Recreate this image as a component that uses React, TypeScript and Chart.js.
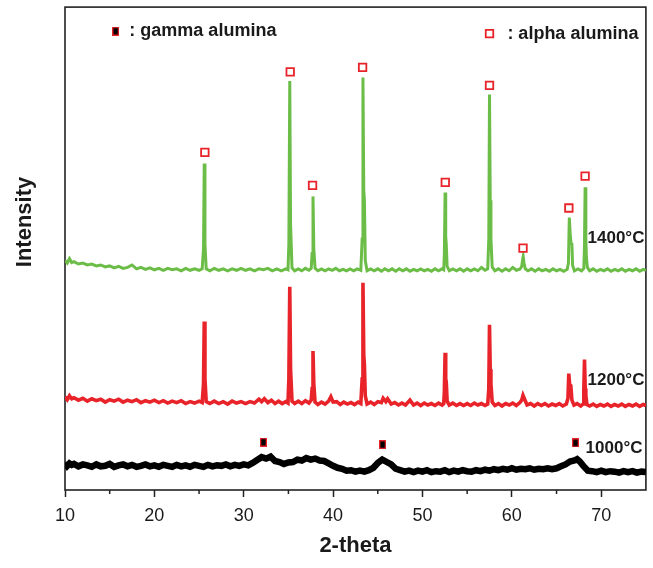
import React, { useEffect, useRef } from 'react';
import { Chart, registerables } from 'chart.js';

Chart.register(...registerables);

// ---- axis ticks ----
const xTickValues = [10, 20, 30, 40, 50, 60, 70];
const xMinorTickValues = [15, 25, 35, 45, 55, 65];

// ---- XRD traces (2-theta, intensity in arbitrary offset units) ----
const green1400: [number, number][] = [
  [10.0, 47.5], [10.25, 47.0], [10.5, 47.9], [10.75, 47.1], [11.0, 47.3], [11.5, 46.8], [12.0, 47.0], [12.5, 46.6],
  [13.0, 46.8], [13.5, 46.4], [14.0, 46.6], [14.5, 46.2], [15.0, 46.4], [15.5, 46.0], [16.0, 46.3], [16.5, 45.9],
  [17.0, 46.1], [17.5, 46.6], [18.0, 45.8], [18.5, 46.1], [19.0, 45.7], [19.5, 46.0], [20.0, 45.6], [20.5, 45.9],
  [21.0, 45.5], [21.5, 45.9], [22.0, 45.6], [22.5, 45.8], [23.0, 45.4], [23.5, 45.9], [24.0, 45.5], [24.5, 45.8],
  [25.0, 45.5], [25.35, 45.8], [25.5, 50.0], [25.58, 67.6], [25.66, 51.0], [25.8, 45.8], [26.2, 45.4], [26.7, 45.9],
  [27.2, 45.5], [27.7, 45.8], [28.2, 45.4], [28.7, 45.8], [29.2, 45.5], [29.7, 45.9], [30.2, 45.5], [30.7, 45.8],
  [31.2, 45.4], [31.7, 45.8], [32.2, 45.6], [32.7, 45.9], [33.2, 45.4], [33.7, 45.8], [34.2, 45.4], [34.7, 45.8],
  [34.95, 45.6], [35.05, 51.0], [35.15, 84.7], [35.24, 55.0], [35.4, 46.0], [35.7, 45.4], [36.1, 45.8], [36.5, 45.4],
  [36.9, 45.9], [37.3, 45.5], [37.55, 45.9], [37.65, 49.0], [37.75, 60.8], [37.84, 50.0], [37.98, 45.9], [38.3, 45.4],
  [38.7, 45.8], [39.1, 45.4], [39.5, 45.8], [39.9, 45.5], [40.3, 45.9], [40.7, 45.4], [41.1, 45.7], [41.5, 45.4],
  [41.9, 45.8], [42.3, 45.4], [42.7, 45.8], [43.1, 45.5], [43.25, 52.0], [43.34, 85.4], [43.43, 62.0], [43.5, 60.2],
  [43.6, 47.5], [43.8, 45.4], [44.2, 45.8], [44.6, 45.4], [45.0, 45.8], [45.4, 45.3], [45.8, 45.8], [46.2, 45.4],
  [46.6, 45.8], [47.0, 45.3], [47.4, 45.8], [47.8, 45.4], [48.2, 45.8], [48.6, 45.3], [49.0, 45.7], [49.4, 45.4],
  [49.8, 45.8], [50.2, 45.4], [50.6, 45.7], [51.0, 45.3], [51.4, 45.8], [51.8, 45.4], [52.2, 45.8], [52.38, 45.6],
  [52.45, 49.0], [52.53, 61.6], [52.6, 52.5], [52.66, 51.0], [52.76, 46.3], [53.0, 45.4], [53.4, 45.8], [53.8, 45.4],
  [54.2, 45.8], [54.6, 45.3], [55.0, 45.8], [55.4, 45.4], [55.8, 45.8], [56.2, 45.4], [56.6, 46.1], [57.0, 45.5],
  [57.3, 45.8], [57.42, 52.0], [57.5, 81.9], [57.58, 60.0], [57.66, 52.0], [57.8, 46.2], [58.1, 45.4], [58.5, 45.8],
  [58.9, 45.3], [59.3, 45.8], [59.7, 45.4], [60.1, 46.1], [60.5, 45.5], [60.9, 45.7], [61.1, 46.3], [61.2, 47.6],
  [61.27, 48.3], [61.36, 47.0], [61.5, 45.8], [61.8, 45.4], [62.2, 45.8], [62.6, 45.3], [63.0, 45.8], [63.4, 45.4],
  [63.8, 45.7], [64.2, 45.3], [64.6, 45.8], [65.0, 45.4], [65.4, 45.7], [65.8, 45.3], [66.2, 45.7], [66.33, 47.0],
  [66.43, 56.4], [66.53, 53.0], [66.62, 51.2], [66.72, 50.8], [66.8, 46.5], [67.0, 45.4], [67.4, 45.8], [67.8, 45.4],
  [68.05, 45.9], [68.12, 50.0], [68.2, 62.7], [68.28, 52.0], [68.34, 48.3], [68.45, 46.1], [68.7, 45.4], [69.1, 45.8],
  [69.5, 45.3], [69.9, 45.7], [70.3, 45.4], [70.7, 45.8], [71.1, 45.3], [71.5, 45.7], [71.9, 45.4], [72.3, 45.8],
  [72.7, 45.3], [73.1, 45.7], [73.5, 45.4], [73.9, 45.8], [74.3, 45.3], [74.7, 45.7], [75.0, 45.5],
];

const red1200: [number, number][] = [
  [10.0, 19.3], [10.25, 18.7], [10.5, 19.5], [10.75, 18.9], [11.0, 19.1], [11.5, 18.6], [12.0, 19.0], [12.5, 18.4],
  [13.0, 18.9], [13.5, 18.5], [14.0, 18.8], [14.5, 18.2], [15.0, 18.7], [15.5, 18.4], [16.0, 18.8], [16.5, 18.2],
  [17.0, 18.6], [17.5, 18.3], [18.0, 18.7], [18.5, 18.1], [19.0, 18.5], [19.5, 18.2], [20.0, 18.6], [20.5, 18.1],
  [21.0, 18.5], [21.5, 18.0], [22.0, 18.4], [22.5, 18.1], [23.0, 18.5], [23.5, 17.9], [24.0, 18.3], [24.5, 18.0],
  [25.0, 18.4], [25.35, 18.1], [25.5, 22.0], [25.58, 34.9], [25.66, 23.0], [25.8, 18.3], [26.2, 17.9], [26.7, 18.4],
  [27.2, 17.9], [27.7, 18.3], [28.2, 17.8], [28.7, 18.4], [29.2, 18.0], [29.7, 18.3], [30.2, 17.9], [30.7, 18.3],
  [31.2, 18.0], [31.7, 18.8], [32.0, 18.3], [32.3, 18.9], [32.7, 18.1], [33.1, 18.6], [33.5, 17.9], [33.9, 18.4],
  [34.3, 17.9], [34.7, 18.3], [34.95, 18.0], [35.05, 23.0], [35.15, 42.1], [35.24, 25.0], [35.4, 18.4], [35.7, 17.9],
  [36.1, 18.4], [36.5, 17.9], [36.9, 18.5], [37.3, 18.0], [37.55, 18.6], [37.65, 21.0], [37.75, 28.8], [37.84, 22.0],
  [37.98, 18.2], [38.3, 17.7], [38.7, 18.2], [39.1, 17.8], [39.5, 18.4], [39.75, 19.3], [40.0, 18.2], [40.4, 18.3],
  [40.8, 17.7], [41.2, 18.2], [41.6, 17.8], [42.0, 18.1], [42.4, 17.7], [42.8, 18.2], [43.1, 17.9], [43.25, 23.0],
  [43.34, 42.9], [43.43, 28.0], [43.5, 26.0], [43.6, 19.5], [43.8, 17.8], [44.2, 18.2], [44.6, 17.7], [45.0, 18.3],
  [45.4, 18.1], [45.6, 19.0], [45.9, 18.3], [46.1, 18.9], [46.5, 17.8], [46.9, 18.1], [47.3, 17.6], [47.7, 18.0],
  [48.1, 17.6], [48.6, 18.6], [49.0, 17.6], [49.4, 18.0], [49.8, 17.5], [50.2, 18.0], [50.6, 17.6], [51.0, 17.9],
  [51.4, 17.5], [51.8, 18.0], [52.2, 17.6], [52.38, 17.9], [52.45, 20.5], [52.53, 28.4], [52.6, 23.0], [52.66, 22.4],
  [52.76, 18.4], [53.0, 17.6], [53.4, 18.0], [53.8, 17.5], [54.2, 17.9], [54.6, 17.5], [55.0, 17.9], [55.4, 17.5],
  [55.8, 18.0], [56.2, 17.6], [56.6, 17.9], [57.0, 17.5], [57.3, 17.8], [57.42, 21.0], [57.5, 34.2], [57.58, 25.0],
  [57.66, 22.0], [57.8, 18.2], [58.1, 17.5], [58.5, 17.9], [58.9, 17.4], [59.3, 17.9], [59.7, 17.6], [60.1, 18.0],
  [60.5, 17.5], [60.9, 18.1], [61.1, 18.6], [61.25, 19.6], [61.45, 18.7], [61.7, 17.6], [62.1, 17.9], [62.5, 17.4],
  [62.9, 17.9], [63.3, 17.5], [63.7, 17.9], [64.1, 17.4], [64.5, 17.8], [64.9, 17.5], [65.3, 17.9], [65.7, 17.4],
  [66.1, 17.8], [66.28, 19.0], [66.37, 24.1], [66.47, 21.8], [66.6, 21.6], [66.72, 18.6], [66.95, 17.6], [67.3, 17.9],
  [67.7, 17.4], [67.98, 17.8], [68.05, 20.5], [68.13, 27.0], [68.21, 21.0], [68.28, 19.5], [68.4, 17.7], [68.7, 17.4],
  [69.1, 17.8], [69.5, 17.3], [69.9, 17.7], [70.3, 17.4], [70.7, 17.8], [71.1, 17.3], [71.5, 17.7], [71.9, 17.4],
  [72.3, 17.8], [72.7, 17.3], [73.1, 17.7], [73.5, 17.4], [73.9, 17.8], [74.3, 17.3], [74.7, 17.7], [75.0, 17.5],
];

const black1000: [number, number][] = [
  [10.0, 5.7], [10.25, 5.0], [10.5, 5.5], [10.75, 5.2], [11.0, 5.4], [11.5, 4.9], [12.0, 5.3], [12.5, 5.1],
  [13.0, 4.8], [13.5, 5.3], [14.0, 4.9], [14.5, 5.0], [15.0, 5.4], [15.5, 4.8], [16.0, 5.1], [16.5, 5.3],
  [17.0, 4.9], [17.5, 5.2], [18.0, 4.8], [18.5, 5.0], [19.0, 5.3], [19.5, 4.9], [20.0, 5.1], [20.5, 4.8],
  [21.0, 5.2], [21.5, 5.0], [22.0, 4.8], [22.5, 5.2], [23.0, 4.9], [23.5, 5.1], [24.0, 4.8], [24.5, 5.2],
  [25.0, 5.0], [25.5, 4.8], [26.0, 5.2], [26.5, 4.9], [27.0, 5.1], [27.5, 5.0], [28.0, 5.3], [28.5, 4.9],
  [29.0, 5.2], [29.5, 5.0], [30.0, 5.3], [30.5, 5.1], [31.0, 5.6], [31.5, 6.2], [32.0, 6.8], [32.5, 6.5],
  [33.0, 6.9], [33.5, 6.0], [34.0, 5.8], [34.5, 5.4], [35.0, 5.7], [35.5, 5.8], [36.0, 6.3], [36.5, 6.1],
  [37.0, 6.6], [37.5, 6.3], [38.0, 6.5], [38.5, 6.1], [39.0, 6.0], [39.5, 5.5], [40.0, 5.0], [40.5, 4.6],
  [41.0, 4.4], [41.5, 4.0], [42.0, 4.1], [42.5, 3.8], [43.0, 4.0], [43.5, 3.8], [44.0, 4.1], [44.5, 4.6],
  [45.0, 5.6], [45.5, 6.3], [46.0, 5.8], [46.5, 5.3], [47.0, 4.4], [47.5, 4.1], [48.0, 3.8], [48.5, 4.0],
  [49.0, 3.7], [49.5, 4.0], [50.0, 3.8], [50.5, 4.1], [51.0, 3.7], [51.5, 3.9], [52.0, 3.8], [52.5, 4.1],
  [53.0, 3.7], [53.5, 4.0], [54.0, 3.8], [54.5, 4.1], [55.0, 3.9], [55.5, 3.8], [56.0, 4.1], [56.5, 3.9],
  [57.0, 4.2], [57.5, 4.0], [58.0, 4.3], [58.5, 4.1], [59.0, 4.4], [59.5, 4.2], [60.0, 4.5], [60.5, 4.2],
  [61.0, 4.4], [61.5, 4.3], [62.0, 4.5], [62.5, 4.2], [63.0, 4.4], [63.5, 4.3], [64.0, 4.5], [64.5, 4.3],
  [65.0, 4.5], [65.5, 4.9], [66.0, 5.3], [66.5, 5.9], [67.0, 6.1], [67.3, 6.4], [67.6, 5.9], [68.0, 5.0],
  [68.5, 4.0], [69.0, 3.9], [69.5, 3.7], [70.0, 4.0], [70.5, 3.7], [71.0, 3.9], [71.5, 3.8], [72.0, 3.6],
  [72.5, 3.9], [73.0, 3.7], [73.5, 3.9], [74.0, 3.6], [74.5, 3.8], [75.0, 3.7],
];

// ---- phase markers ----
const alphaPeakX = [25.65, 35.2, 37.7, 43.3, 52.55, 57.5, 61.25, 66.38, 68.2];
const alphaPeakY = [69.9, 86.6, 63.1, 87.5, 63.7, 83.8, 50.1, 58.4, 65.0];
const gammaPeakX = [32.2, 45.54, 67.12];
const gammaPeakY = [9.9, 9.4, 9.75];

// ---- text ----
const legendLabels = [': gamma alumina', ': alpha alumina'];
const seriesLabels = ['1400°C', '1200°C', '1000°C'];
const xTitle = '2-theta';
const yTitle = 'Intensity';

const GREEN = '#6bbd48';
const RED = '#e8242a';
const BLACK = '#000000';
const FONT = "'Liberation Sans', Arial, Helvetica, sans-serif";

const toXY = (arr: [number, number][]) => arr.map(([x, y]) => ({ x, y }));
const zipXY = (xs: number[], ys: number[]) => xs.map((x, i) => ({ x, y: ys[i] }));

export default function App() {
  const ref = useRef<HTMLCanvasElement>(null);

  useEffect(() => {
    if (!ref.current) return;

    const gammaImg = document.createElement('canvas');
    gammaImg.width = 7;
    gammaImg.height = 9;
    const g = gammaImg.getContext('2d')!;
    g.fillStyle = RED;
    g.fillRect(0, 0, 7, 9);
    g.fillStyle = '#000';
    g.fillRect(1.3, 1.3, 4.4, 6.4);

    const overlay = {
      id: 'overlay',
      beforeDatasetsDraw(chart: any) {
        const { ctx, chartArea: a } = chart;
        const xs = chart.scales.x;
        ctx.save();
        ctx.strokeStyle = '#222';
        ctx.lineWidth = 1.6;
        ctx.strokeRect(a.left, a.top, a.right - a.left, a.bottom - a.top);
        ctx.beginPath();
        xMinorTickValues.forEach((v) => {
          const px = xs.getPixelForValue(v);
          ctx.moveTo(px, a.bottom);
          ctx.lineTo(px, a.bottom + 4);
        });
        ctx.lineWidth = 1.5;
        ctx.stroke();
        ctx.restore();
      },
      afterDatasetsDraw(chart: any) {
        const { ctx, chartArea: a } = chart;
        const xs = chart.scales.x;
        const ys = chart.scales.y;
        const put = (text: string, x: number, y: number, size: number) => {
          ctx.font = `bold ${size}px ${FONT}`;
          ctx.fillText(text, xs.getPixelForValue(x), ys.getPixelForValue(y));
        };
        ctx.save();
        ctx.fillStyle = '#1a1a1a';
        ctx.textAlign = 'left';
        ctx.textBaseline = 'middle';
        put(legendLabels[0], 17.2, 95.0, 18);
        put(legendLabels[1], 59.5, 94.4, 18);
        put(seriesLabels[0], 68.47, 52.1, 17);
        put(seriesLabels[1], 68.47, 22.8, 17);
        put(seriesLabels[2], 68.25, 8.6, 17);
        ctx.translate(a.left - 40, ys.getPixelForValue(55.5));
        ctx.rotate(-Math.PI / 2);
        ctx.textAlign = 'center';
        ctx.font = `bold 22px ${FONT}`;
        ctx.fillText(yTitle, 0, 0);
        ctx.restore();
      },
    };

    const chart = new Chart(ref.current, {
      type: 'line',
      data: {
        datasets: [
          {
            label: 'alpha legend',
            data: [{ x: 57.5, y: 94.5 }],
            showLine: false,
            pointStyle: 'rect',
            pointRadius: 5.3,
            pointBorderWidth: 1.8,
            pointBorderColor: RED,
            pointBackgroundColor: '#fff',
          },
          {
            label: 'gamma legend',
            data: [{ x: 15.67, y: 95.0 }],
            showLine: false,
            pointStyle: gammaImg,
            pointRadius: 5,
          },
          {
            label: 'alpha alumina',
            data: zipXY(alphaPeakX, alphaPeakY),
            showLine: false,
            pointStyle: 'rect',
            pointRadius: 5.3,
            pointBorderWidth: 1.8,
            pointBorderColor: RED,
            pointBackgroundColor: '#fff',
          },
          {
            label: 'gamma alumina',
            data: zipXY(gammaPeakX, gammaPeakY),
            showLine: false,
            pointStyle: gammaImg,
            pointRadius: 5,
          },
          {
            label: seriesLabels[0],
            data: toXY(green1400),
            borderColor: GREEN,
            borderWidth: 3,
            pointRadius: 0,
            tension: 0,
          },
          {
            label: seriesLabels[1],
            data: toXY(red1200),
            borderColor: RED,
            borderWidth: 3.6,
            pointRadius: 0,
            tension: 0,
          },
          {
            label: seriesLabels[2],
            data: toXY(black1000),
            borderColor: BLACK,
            borderWidth: 6.5,
            pointRadius: 0,
            tension: 0,
          },
        ] as any,
      },
      options: {
        animation: false,
        responsive: true,
        maintainAspectRatio: false,
        events: [],
        layout: { padding: { left: 65, top: 7, right: 6, bottom: 0 } },
        plugins: {
          legend: { display: false },
          tooltip: { enabled: false },
        },
        scales: {
          x: {
            type: 'linear',
            min: 10,
            max: 75,
            afterBuildTicks: (s: any) => {
              s.ticks = xTickValues.map((v) => ({ value: v }));
            },
            afterFit: (s: any) => {
              s.height = 78;
            },
            ticks: {
              font: { family: FONT, size: 18 },
              color: '#1a1a1a',
              padding: 8,
              maxRotation: 0,
              autoSkip: false,
            },
            grid: {
              display: true,
              drawOnChartArea: false,
              drawTicks: true,
              tickLength: 7,
              tickWidth: 1.5,
              tickColor: '#222',
            },
            border: { display: false },
            title: {
              display: true,
              text: xTitle,
              font: { family: FONT, size: 22, weight: 'bold' },
              color: '#1a1a1a',
              padding: { top: 0, bottom: 9 },
            },
          },
          y: { display: false, min: 0, max: 100 },
        },
      } as any,
      plugins: [overlay],
    });

    return () => chart.destroy();
  }, []);

  return (
    <div style={{ position: 'fixed', left: 0, top: 0, width: 653, height: 568, background: '#fff' }}>
      <canvas ref={ref} />
    </div>
  );
}
